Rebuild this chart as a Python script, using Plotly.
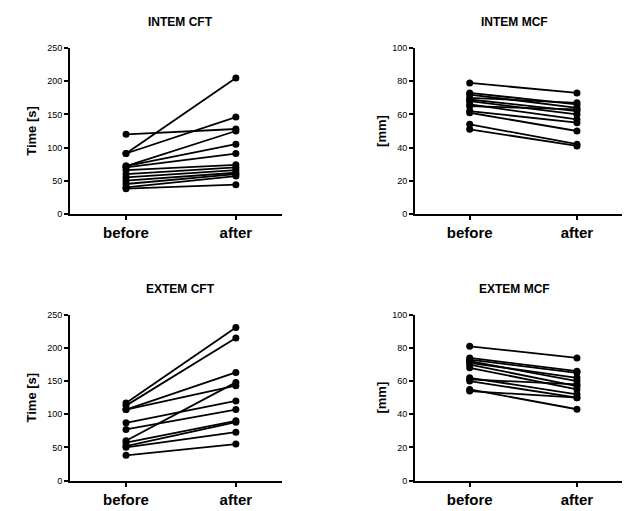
import plotly.graph_objects as go

categories = ["before", "after"]

intem_cft_before = [120, 91, 91, 72, 72, 70, 66, 60, 55, 50, 45, 40, 38]
intem_cft_after = [128, 205, 146, 125, 105, 91, 74, 70, 66, 62, 60, 57, 44]

intem_mcf_before = [79, 73, 72, 70, 69, 68, 66, 65, 62, 61, 54, 51]
intem_mcf_after = [73, 66, 64, 67, 62, 60, 57, 63, 55, 50, 42, 41]

extem_cft_before = [117, 113, 107, 107, 87, 77, 60, 57, 52, 50, 38]
extem_cft_after = [231, 215, 163, 143, 120, 107, 148, 90, 88, 73, 55]

extem_mcf_before = [81, 74, 73, 72, 71, 70, 68, 62, 61, 60, 55, 54]
extem_mcf_after = [74, 66, 65, 60, 62, 57, 55, 52, 58, 50, 43, 50]

panels = [
    ("INTEM CFT", "Time [s]", intem_cft_before, intem_cft_after, [0, 250], 50),
    ("INTEM MCF", "[mm]", intem_mcf_before, intem_mcf_after, [0, 100], 20),
    ("EXTEM CFT", "Time [s]", extem_cft_before, extem_cft_after, [0, 250], 50),
    ("EXTEM MCF", "[mm]", extem_mcf_before, extem_mcf_after, [0, 100], 20),
]

W, H = 625, 511
# pixel geometry of each panel: (left, right, top, bottom)
geom = [(70, 282, 44, 213), (415, 622, 44, 213), (70, 282, 316, 485), (415, 622, 316, 485)]
title_x = [180, 514, 180, 514]
title_y = [17, 17, 290, 290]

FONT = "Arial, Liberation Sans, sans-serif"
fig = go.Figure()
layout = dict(width=W, height=H, margin=dict(l=0, r=0, t=0, b=0),
              plot_bgcolor="white", paper_bgcolor="white", showlegend=False)
annotations = []

for i, (title, ytitle, bef, aft, yr, dt) in enumerate(panels):
    n = "" if i == 0 else str(i + 1)
    l, r, t, b = geom[i]
    for yb, ya in zip(bef, aft):
        fig.add_trace(go.Scatter(
            x=[0, 1], y=[yb, ya], mode="lines+markers",
            line=dict(color="black", width=1.8),
            marker=dict(color="black", size=7),
            xaxis="x" + n, yaxis="y" + n, hoverinfo="skip"))
    layout["xaxis" + n] = dict(
        domain=[l / W, r / W], range=[-0.51, 1.42], anchor="y" + n,
        tickvals=[0, 1], ticktext=categories, showgrid=False, zeroline=False,
        showline=True, linecolor="black", linewidth=2, ticks="outside",
        ticklen=4, tickwidth=1.5, tickcolor="black",
        tickfont=dict(family=FONT, size=15, color="black", weight="bold"))
    layout["yaxis" + n] = dict(
        domain=[1 - b / H, 1 - t / H], range=yr, anchor="x" + n,
        dtick=dt, showgrid=False, zeroline=False,
        showline=True, linecolor="black", linewidth=2, ticks="outside",
        ticklen=4, tickwidth=1.5, tickcolor="black",
        tickfont=dict(family=FONT, size=9, color="black"),
        title=dict(text="<b>" + ytitle + "</b>", standoff=8 if i % 2 == 0 else 3,
                   font=dict(family=FONT, size=13, color="black")))
    annotations.append(dict(
        text="<b>" + title + "</b>", x=title_x[i] / W,
        y=1 - title_y[i] / H, xref="paper", yref="paper", showarrow=False,
        xanchor="center", yanchor="middle",
        font=dict(family=FONT, size=12, color="black")))

layout["annotations"] = annotations
fig.update_layout(**layout)
fig.write_html("out.html")
